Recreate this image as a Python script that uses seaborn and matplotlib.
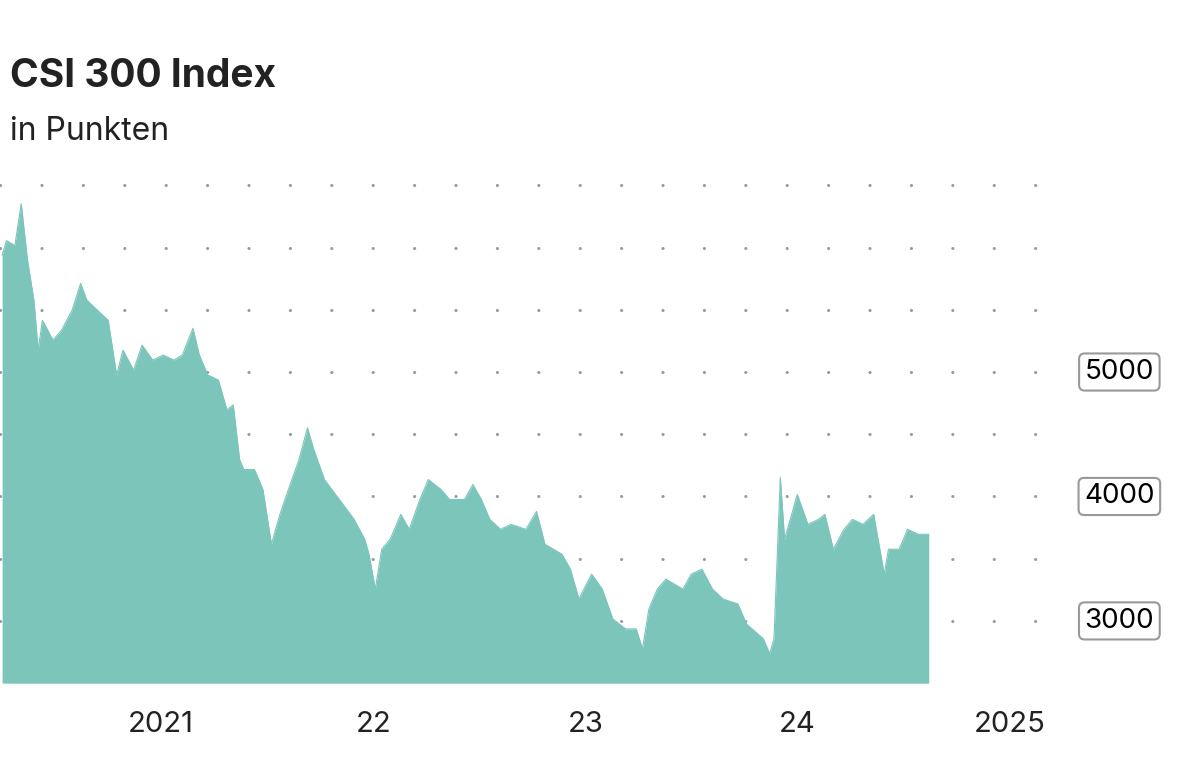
import matplotlib
matplotlib.use("Agg")
import matplotlib.pyplot as plt
import seaborn as sns
import pandas as pd

years = [2020.25, 2020.27, 2020.31, 2020.34, 2020.37, 2020.40, 2020.42, 2020.44, 2020.49, 2020.53,
         2020.58, 2020.62, 2020.65, 2020.70, 2020.75, 2020.79, 2020.82, 2020.87, 2020.91, 2020.96,
         2021.01, 2021.06, 2021.10, 2021.15, 2021.18, 2021.22, 2021.27, 2021.31, 2021.34, 2021.37,
         2021.39, 2021.44, 2021.48, 2021.52, 2021.56, 2021.60, 2021.65, 2021.69, 2021.72, 2021.77,
         2021.84, 2021.91, 2021.96, 2021.98, 2022.01, 2022.04, 2022.08, 2022.13, 2022.17, 2022.22,
         2022.26, 2022.32, 2022.36, 2022.43, 2022.47, 2022.51, 2022.55, 2022.60, 2022.65, 2022.72,
         2022.77, 2022.81, 2022.89, 2022.93, 2022.97, 2023.03, 2023.08, 2023.13, 2023.19, 2023.24,
         2023.27, 2023.30, 2023.34, 2023.38, 2023.46, 2023.50, 2023.55, 2023.60, 2023.65, 2023.72,
         2023.76, 2023.84, 2023.87, 2023.89, 2023.92, 2023.94, 2023.98, 2024.00, 2024.05, 2024.10,
         2024.13, 2024.17, 2024.22, 2024.26, 2024.31, 2024.36, 2024.41, 2024.43, 2024.48, 2024.52,
         2024.57, 2024.62]
points = [5936, 6056, 6016, 6352, 5896, 5576, 5176, 5416, 5256, 5336,
          5496, 5712, 5576, 5496, 5416, 4976, 5176, 5016, 5216, 5096,
          5136, 5096, 5136, 5352, 5136, 4976, 4936, 4696, 4736, 4296,
          4216, 4216, 4056, 3616, 3856, 4056, 4296, 4552, 4376, 4136,
          3976, 3816, 3656, 3536, 3256, 3576, 3656, 3856, 3736, 3976,
          4136, 4056, 3976, 3976, 4096, 3976, 3816, 3736, 3776, 3736,
          3880, 3616, 3536, 3416, 3176, 3376, 3256, 3016, 2936, 2936,
          2776, 3096, 3256, 3336, 3256, 3376, 3416, 3256, 3176, 3136,
          2976, 2856, 2736, 2856, 4152, 3656, 3896, 4016, 3776, 3816,
          3856, 3576, 3736, 3816, 3776, 3856, 3376, 3576, 3576, 3736,
          3696, 3696]
grid_levels = [3000, 3500, 4000, 4500, 5000, 5500, 6000, 6500]
label_levels = [3000, 4000, 5000]
tick_years = [2020.25, 2021, 2022, 2023, 2024, 2025]
tick_labels = ["", "2021", "22", "23", "24", "2025"]

df = pd.DataFrame({"year": years, "value": points})
fill = "#7bc5ba"
base = 2500

sns.set_style("white")
plt.rcParams["font.family"] = ["Inter", "DejaVu Sans"]
fig = plt.figure(figsize=(12, 7.65), dpi=100)
ax = fig.add_axes([0.0, 0.107, 0.88, 0.667])
sns.lineplot(data=df, x="year", y="value", color=fill, linewidth=0.8, ax=ax)
ax.fill_between(df["year"], df["value"], base, color=fill, linewidth=0)

for lv in grid_levels:
    ax.axhline(lv, color="#999999", linewidth=2.2, dashes=(0.05, 13.5),
               dash_capstyle="round", zorder=0, xmin=0.0, xmax=1.0)

ax.set_xlim(2020.24, 2025.22)
ax.set_ylim(base, 6600)
ax.set_yticks([])
ax.set_xticks(tick_years)
ax.set_xticklabels(tick_labels, fontsize=21, color="#222222")
ax.tick_params(axis="x", length=14, width=1.5, color="#999999", pad=6)
for s in ax.spines.values():
    s.set_visible(False)
ax.set_xlabel("")
ax.set_ylabel("")

for lv in label_levels:
    ax.text(1.06, lv, str(lv), transform=ax.get_yaxis_transform(), fontsize=20,
            ha="center", va="center", color="black",
            bbox=dict(boxstyle="round,pad=0.2", fc="white", ec="#999999", lw=1.5))

fig.text(0.008, 0.9, "CSI 300 Index", fontsize=28, fontweight="bold", color="#222222", va="center")
fig.text(0.008, 0.828, "in Punkten", fontsize=23, color="#222222", va="center")

fig.savefig("out.png", dpi=100)
